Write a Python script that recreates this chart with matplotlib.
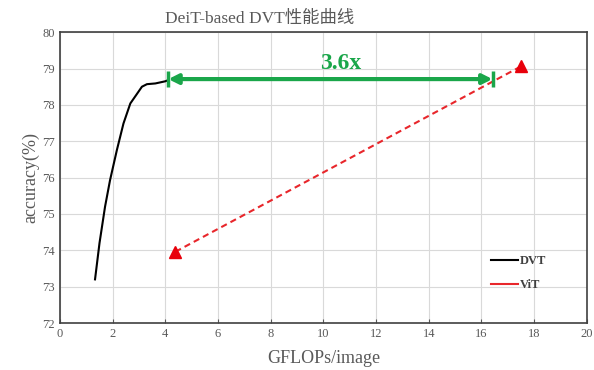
import matplotlib
matplotlib.use('Agg')
import matplotlib.pyplot as plt

# DVT 曲线
dvt_x = [1.33, 1.50, 1.71, 1.90, 2.16, 2.41, 2.67, 2.90, 3.11, 3.30, 3.62, 4.00, 4.10]
dvt_y = [73.2, 74.2, 75.2, 75.93, 76.76, 77.49, 78.04, 78.28, 78.5, 78.57, 78.59, 78.65, 78.68]
# ViT 两个点
vit_x = [4.38, 17.5]
vit_y = [73.96, 79.06]
# 加速箭头
arrow_x = [4.11, 16.42]
arrow_y = 78.71
speedup = '3.6x'

plt.rcParams['font.family'] = ['Liberation Serif', 'Noto Sans CJK SC']
grey = '#595959'
green = '#1aa64a'

fig = plt.figure(figsize=(5.94, 3.70), dpi=100)
ax = fig.add_axes([0.101, 0.127, 0.887, 0.786])

ax.plot(dvt_x, dvt_y, color='black', lw=1.5, label='DVT')
ax.plot(vit_x, vit_y, color='#e8262b', lw=1.5, ls=(0, (3, 2)), label='ViT')
ax.plot(vit_x, vit_y, ls='none', marker='^', ms=9, color='#e8000b')

# 绿色双向箭头
ax.annotate('', xy=(arrow_x[1], arrow_y), xytext=(arrow_x[0], arrow_y),
            arrowprops=dict(arrowstyle='<|-|>', color=green, lw=3,
                            mutation_scale=14, shrinkA=0, shrinkB=0))
ax.plot(arrow_x, [arrow_y, arrow_y], ls='none', marker='|', ms=12, mew=2.5, color=green)
ax.text(10.67, 79.15, speedup, color=green, fontsize=17,
        fontweight='bold', ha='center', va='center')

ax.set_xlim(0, 20)
ax.set_ylim(72, 80)
ax.set_xticks(range(0, 21, 2))
ax.set_yticks(range(72, 81))
ax.grid(True, color='#d9d9d9', lw=0.8)
ax.set_axisbelow(True)
for s in ax.spines.values():
    s.set_color('#404040')
    s.set_linewidth(1.2)
ax.tick_params(colors=grey, labelsize=9, length=3, direction='in')
ax.tick_params(axis='y', length=0)

ax.set_xlabel('GFLOPs/image', color=grey, fontsize=13, labelpad=7)
ax.set_ylabel('accuracy(%)', color=grey, fontsize=13, labelpad=2)
fig.text(260 / 594, 1 - 19 / 370, 'DeiT-based DVT性能曲线', color=grey, fontsize=12.5,
         ha='center', va='center')

leg = ax.legend(handles=ax.lines[:2], loc='lower right', bbox_to_anchor=(0.945, 0.07),
                frameon=False, handlelength=2.2, labelspacing=1.0,
                handletextpad=0.15, prop={'weight': 'bold', 'size': 9})
leg.get_lines()[1].set_linestyle('-')
for t in leg.get_texts():
    t.set_color('#404040')

fig.savefig('out.png', dpi=100)
